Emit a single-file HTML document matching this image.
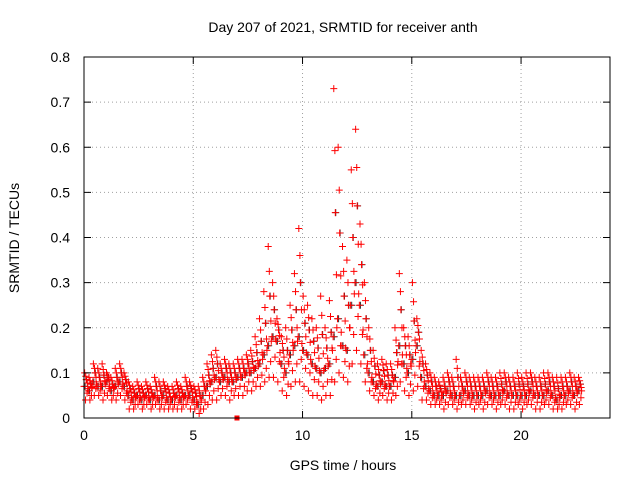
<!DOCTYPE html>
<html><head><meta charset="utf-8"><style>
body{margin:0;background:#fff}
svg{display:block;font-family:"Liberation Sans",sans-serif}
</style></head><body>
<svg id="chart" width="640" height="480" viewBox="0 0 640 480" xmlns="http://www.w3.org/2000/svg">
<rect width="640" height="480" fill="#fff"/>
<text x="343" y="32" font-size="14" text-anchor="middle">Day 207 of 2021, SRMTID for receiver anth</text>
<text x="343" y="470" font-size="14" text-anchor="middle">GPS time / hours</text>
<text x="19" y="238" font-size="14" text-anchor="middle" transform="rotate(-90 19 238)">SRMTID / TECUs</text>
<g id="grid"></g>
<g id="marks"></g>
<rect x="84" y="57" width="526" height="361" fill="none" stroke="#000" stroke-width="1"/>
<g id="axes"></g>
</svg>
<script>
const xTicks=[0,5,10,15,20];
const yTicks=[0,0.1,0.2,0.3,0.4,0.5,0.6,0.7,0.8];
const yTickLabels=["0","0.1","0.2","0.3","0.4","0.5","0.6","0.7","0.8"];
const tStep=0.2;
const midVals=[.07,.06,.08,.07,.07,.08,.06,.07,.08,.07,.05,.04,.05,.04,.05,.04,.05,.04,.05,.04,.04,.05,.04,.05,.05,.04,.03,.05,.07,.08,.09,.08,.09,.08,.08,.09,.09,.10,.10,.11,.12,.14,.16,.18,.17,.12,.10,.14,.16,.18,.15,.14,.12,.11,.10,.11,.12,.18,.22,.16,.15,.25,.30,.25,.14,.10,.08,.07,.08,.07,.07,.09,.16,.12,.10,.13,.16,.09,.07,.06,.05,.05,.05,.06,.05,.05,.05,.06,.05,.05,.05,.05,.06,.05,.05,.05,.06,.05,.05,.05,.05,.05,.06,.05,.05,.05,.06,.05,.04,.05,.05,.06,.05,.06];
const hiVals=[.10,.09,.12,.11,.12,.10,.09,.11,.12,.10,.08,.07,.08,.07,.08,.07,.09,.08,.08,.07,.07,.08,.07,.09,.08,.07,.07,.09,.12,.14,.15,.12,.13,.12,.12,.13,.13,.14,.15,.18,.22,.28,.38,.30,.22,.18,.20,.25,.32,.42,.27,.25,.22,.20,.27,.20,.26,.73,.60,.38,.35,.55,.64,.43,.30,.20,.15,.12,.13,.12,.12,.20,.32,.20,.18,.30,.22,.15,.12,.10,.09,.08,.09,.10,.09,.13,.09,.10,.09,.09,.09,.09,.10,.09,.09,.10,.10,.09,.09,.10,.09,.10,.10,.09,.09,.10,.10,.09,.09,.09,.09,.10,.09,.09];
const loVals=[.04,.04,.05,.05,.04,.05,.04,.04,.05,.04,.02,.02,.03,.02,.03,.02,.03,.02,.02,.02,.02,.02,.02,.03,.02,.02,.01,.02,.03,.04,.04,.05,.05,.04,.05,.05,.05,.06,.06,.07,.07,.08,.09,.09,.08,.06,.05,.07,.08,.08,.07,.06,.05,.05,.04,.05,.05,.08,.10,.09,.08,.12,.15,.12,.08,.06,.05,.04,.05,.04,.04,.05,.08,.06,.05,.06,.07,.04,.04,.03,.03,.03,.02,.03,.03,.02,.03,.03,.03,.02,.03,.02,.03,.03,.02,.03,.03,.02,.02,.03,.02,.03,.03,.02,.02,.03,.03,.02,.02,.02,.03,.03,.02,.03];
const X0=84,X1=610,Y0=418,Y1=57,XMAX=24.07,YMAX=0.8;
function xs(t){return X0+(X1-X0)*t/XMAX;}
function ys(v){return Y0-(Y0-Y1)*v/YMAX;}
const NS="http://www.w3.org/2000/svg";
const grid=document.getElementById('grid'),axes=document.getElementById('axes'),marks=document.getElementById('marks');
function mk(tag,attrs,parent){const e=document.createElementNS(NS,tag);for(const k in attrs)e.setAttribute(k,attrs[k]);parent.appendChild(e);return e;}
xTicks.forEach(t=>{
  const g=mk('line',{x1:xs(t),x2:xs(t),y1:Y0,y2:Y1,stroke:'#a0a0a0','stroke-dasharray':'1,3'},grid);
  
  
  mk('line',{x1:xs(t),x2:xs(t),y1:Y0,y2:Y0-7,stroke:'#000'},axes);
  mk('line',{x1:xs(t),x2:xs(t),y1:Y1,y2:Y1+7,stroke:'#000'},axes);
  const l=mk('text',{x:xs(t),y:Y0+22,'font-size':14,'text-anchor':'middle'},axes);
  l.textContent=t;
  
  
});
yTicks.forEach((v,i)=>{
  const g=mk('line',{x1:X0,x2:X1,y1:ys(v),y2:ys(v),stroke:'#a0a0a0','stroke-dasharray':'1,3'},grid);
  
  
  mk('line',{x1:X0,x2:X0+7,y1:ys(v),y2:ys(v),stroke:'#000'},axes);
  mk('line',{x1:X1,x2:X1-7,y1:ys(v),y2:ys(v),stroke:'#000'},axes);
  const l=mk('text',{x:X0-14,y:ys(v)+5,'font-size':14,'text-anchor':'end'},axes);
  l.textContent=yTickLabels[i];
  
  
});
function plus(t,v,col){
  const x=xs(t),y=ys(v);
  const p=mk('path',{d:`M${x-3.5},${y}h7M${x},${y-3.5}v7`,stroke:col,'stroke-width':1,fill:'none'},marks);
  
  
}
midVals.forEach((m,i)=>{
  const t=i*tStep,h=hiVals[i],l=loVals[i];
  const nm=i+1<midVals.length?midVals[i+1]:m;
  plus(t+0.05,m,'#303030');
  plus(t+0.12,(m+h)/2,'#303030');
});
midVals.forEach((m,i)=>{
  const t=i*tStep,h=hiVals[i],l=loVals[i];
  const nm=i+1<midVals.length?midVals[i+1]:m;
  plus(t,m,'#ff0000');
  plus(t+0.03,h,'#ff0000');
  plus(t+0.07,l,'#ff0000');
  plus(t+0.1,(m+h)/2,'#ff0000');
  plus(t+0.14,(m+l)/2,'#ff0000');
  plus(t+0.17,(m+nm)/2,'#ff0000');
  plus(t+0.08,(3*h+m)/4,'#ff0000');
  plus(t+0.15,(h+m*3)/4,'#ff0000');
});
const sq=mk('rect',{x:xs(7)-2.5,y:Y0-2.5,width:5,height:5,fill:'#ff0000'},marks);


</script>
</body></html>
